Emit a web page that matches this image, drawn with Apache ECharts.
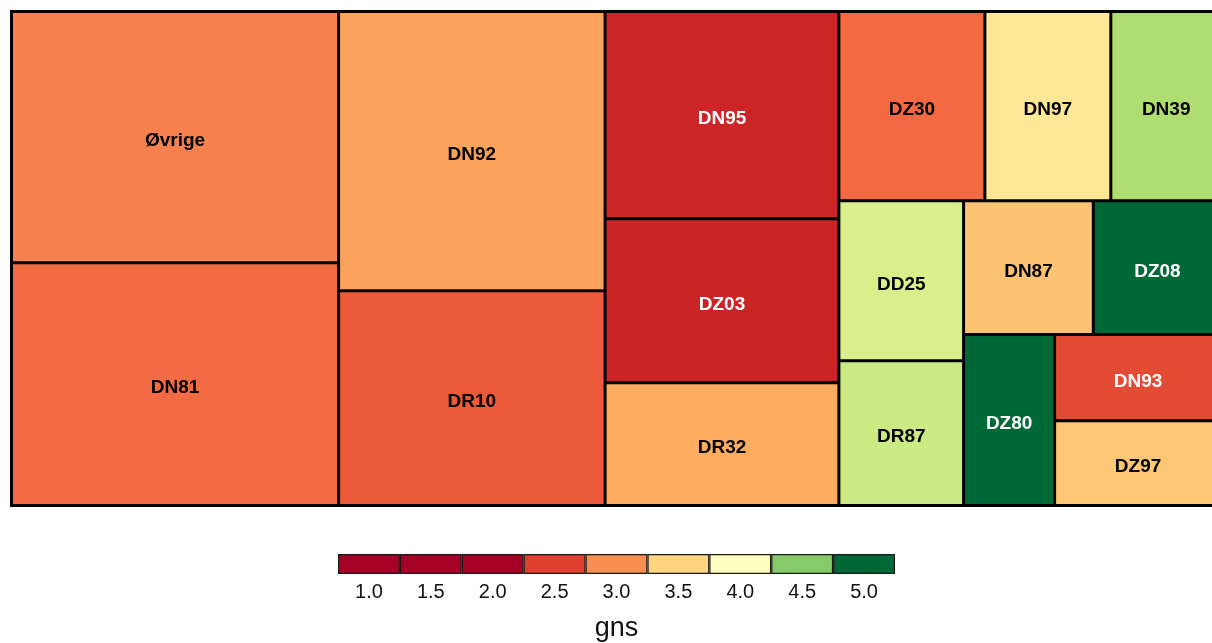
<!DOCTYPE html>
<html>
<head>
<meta charset="utf-8">
<script src="https://cdn.jsdelivr.net/npm/echarts@6/dist/echarts.min.js"></script>
<style>
html,body{margin:0;padding:0;background:#fff;}
#c{width:1212px;height:643px;}
</style>
</head>
<body>
<div id="c"></div>
<script>
// ---- data ----
const names = ["Øvrige","DN81","DN92","DR10","DN95","DZ03","DR32","DZ30","DN97","DN39","DD25","DR87","DN87","DZ08","DZ80","DN93","DZ97"];
const sizes = [824,796,746,574,486,384,288,277,239,210,200,181,174,172,156,144,142];
const gns   = [2.92,2.79,3.13,2.68,2.31,2.30,3.19,2.78,3.69,4.36,4.20,4.25,3.36,5.0,5.0,2.58,3.40];
// nesting of groups (structure of the treemap)
const groups = [["Øvrige","DN81"],["DN92","DR10"],["DN95","DZ03","DR32"],
  [["DZ30","DN97","DN39"],[["DD25","DR87"],[["DN87","DZ08"],["DZ80",["DN93","DZ97"]]]]]];
const legendLabels = ["1.0","1.5","2.0","2.5","3.0","3.5","4.0","4.5","5.0"];
const legendValues = [1.0,1.5,2.0,2.5,3.0,3.5,4.0,4.5,5.0];

// ---- colour scale (RdYlGn) ----
const stops = [2.0,2.4,2.8,3.2,3.6,4.0,4.2,4.4,4.6,4.8,5.0];
const palette = ['#a50026','#d73027','#f46d43','#fdae61','#fee08b','#ffffbf','#d9ef8b','#a6d96a','#66bd63','#1a9850','#006837'];
function hex2rgb(h){return [parseInt(h.substr(1,2),16),parseInt(h.substr(3,2),16),parseInt(h.substr(5,2),16)];}
function colorFor(v){
  if (v <= stops[0]) return palette[0];
  if (v >= stops[stops.length-1]) return palette[palette.length-1];
  for (let i=0;i<stops.length-1;i++){
    if (v>=stops[i] && v<=stops[i+1]){
      const t=(v-stops[i])/(stops[i+1]-stops[i]);
      const a=hex2rgb(palette[i]), b=hex2rgb(palette[i+1]);
      const c=a.map((x,k)=>Math.round(x+(b[k]-x)*t));
      return 'rgb('+c.join(',')+')';
    }
  }
}
function lum(col){
  let c;
  if (col[0]==='#') c=hex2rgb(col); else c=col.match(/\d+/g).map(Number);
  return 0.299*c[0]+0.587*c[1]+0.114*c[2];
}
function build(node){
  if (typeof node === 'string'){
    const i = names.indexOf(node);
    const col = colorFor(gns[i]);
    return {
      name: node, value: sizes[i],
      itemStyle: {color: col, borderColor: '#000', borderWidth: 1.5},
      label: {color: lum(col) > 125 ? '#000' : '#fff'}
    };
  }
  return {
    children: node.map(build),
    itemStyle: {borderWidth: 0, gapWidth: 0, borderColor: '#000'}
  };
}
const treeData = groups.map(build);

const chart = echarts.init(document.getElementById('c'));
chart.setOption({
  animation: false,
  grid: {left: 338, top: 554, width: 557, height: 20},
  xAxis: {
    type: 'category', data: legendLabels,
    axisLine: {show: false}, axisTick: {show: false},
    axisLabel: {fontSize: 20, color: '#111', margin: 8, fontFamily: 'Liberation Sans, Arial, sans-serif'},
    name: 'gns', nameLocation: 'middle', nameGap: 41,
    nameTextStyle: {fontSize: 27, color: '#111', fontFamily: 'Liberation Sans, Arial, sans-serif'}
  },
  yAxis: {type: 'value', min: 0, max: 1, show: false},
  series: [
    {
      type: 'treemap',
      left: 10, top: 10, width: 1213, height: 497,
      sort: false,
      squareRatio: 0.001,
      roam: false, nodeClick: false,
      breadcrumb: {show: false},
      itemStyle: {borderWidth: 1.5, borderColor: '#000', gapWidth: 0},
      label: {show: true, position: 'inside', offset: [0, 4], formatter: '{b}', fontSize: 19, fontWeight: 'bold',
              fontFamily: 'Liberation Sans, Arial, sans-serif'},
      upperLabel: {show: false},
      data: treeData
    },
    {
      type: 'bar',
      barCategoryGap: '0%',
      itemStyle: {borderColor: '#1a1a1a', borderWidth: 1.2},
      data: legendValues.map(v => ({value: 1, itemStyle: {color: colorFor(v)}})),
      silent: true
    }
  ]
});
</script>
</body>
</html>
